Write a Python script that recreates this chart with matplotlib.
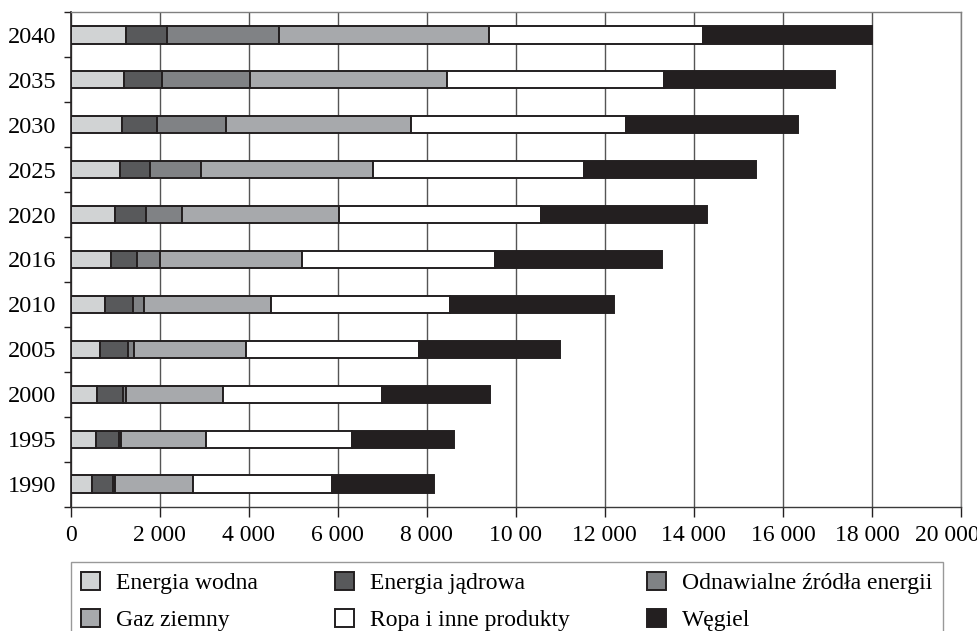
import numpy as np
import matplotlib
matplotlib.use("Agg")
import matplotlib.pyplot as plt
import matplotlib.transforms as mtransforms

plt.rcParams['font.family'] = ['Liberation Serif', 'DejaVu Serif']

# Years (bottom to top) and energy use by source
years = ['1990', '1995', '2000', '2005', '2010', '2016', '2020', '2025', '2030', '2035', '2040']
hydro      = [476, 565, 595, 655, 768, 902, 1006, 1104, 1156, 1200, 1240]
nuclear    = [471, 531, 590, 636, 642, 598, 689, 681, 786, 850, 920]
renewables = [45, 45, 68, 134, 233, 516, 801, 1151, 1555, 1975, 2530]
gas        = [1758, 1908, 2170, 2508, 2864, 3187, 3531, 3854, 4140, 4440, 4700]
oil        = [3127, 3277, 3562, 3883, 4011, 4330, 4539, 4750, 4846, 4870, 4810]
coal       = [2282, 2282, 2436, 3180, 3679, 3762, 3730, 3858, 3854, 3845, 3800]

series_names = ['Energia wodna', 'Energia jądrowa', 'Odnawialne źródła energii',
                'Gaz ziemny', 'Ropa i inne produkty', 'Węgiel']
series_colors = ['#d1d3d4', '#58595b', '#808285', '#a7a9ac', '#ffffff', '#231f20']

x_ticks = [0, 2000, 4000, 6000, 8000, 10000, 12000, 14000, 16000, 18000, 20000]
x_tick_labels = ['0', '2 000', '4 000', '6 000', '8 000', '10 00', '12 000',
                 '14 000', '16 000', '18 000', '20 000']

fig = plt.figure(figsize=(9.78, 6.31), dpi=100)
ax = fig.add_axes([0.0721, 0.197, 0.9105, 0.7835])

y = np.arange(len(years))
left = np.zeros(len(years))
handles = []
for name, vals, col in zip(series_names, [hydro, nuclear, renewables, gas, oil, coal], series_colors):
    vals = np.array(vals, dtype=float)
    b = ax.barh(y, vals, left=left, height=0.39, color=col, edgecolor='#231f20',
                linewidth=1.4, label=name, zorder=3)
    handles.append(b)
    left += vals

ax.set_xlim(0, 20000)
ax.set_ylim(-0.5, len(years) - 0.5)
ax.set_xticks(x_ticks)
ax.set_xticklabels(x_tick_labels, fontsize=17)
ax.set_yticks(y)
ax.set_yticklabels(years, fontsize=17.5)
ax.set_yticks(np.arange(-0.5, len(years), 1.0), minor=True)

ax.tick_params(axis='y', which='major', length=0, pad=10)
ax.tick_params(axis='y', which='minor', length=5, width=1, color='#231f20', direction='out')
ax.tick_params(axis='x', which='major', length=7, width=1, color='#231f20', pad=6)

# The last two labels are nudged left so they stay inside the figure
fig.canvas.draw()
xlabels = ax.get_xticklabels()
for lbl, dx in ((xlabels[-2], -5), (xlabels[-1], -14)):
    lbl.set_transform(lbl.get_transform() +
                      mtransforms.ScaledTranslation(dx / 100, 0, fig.dpi_scale_trans))

ax.xaxis.grid(True, color='#555555', linewidth=1)
ax.set_axisbelow(True)

ax.spines['left'].set_color('#231f20')
ax.spines['left'].set_linewidth(1.2)
ax.spines['bottom'].set_color('#3a3a3a')
ax.spines['bottom'].set_linewidth(1.0)
for s in ('top', 'right'):
    ax.spines[s].set_color('#808080')
    ax.spines[s].set_linewidth(1.0)

# Legend filled row by row: reorder for matplotlib's column-major layout
order = [0, 3, 1, 4, 2, 5]
leg = fig.legend([handles[i] for i in order], [series_names[i] for i in order],
                 ncol=3, loc='upper left', bbox_to_anchor=(71 / 978, 1 - 562 / 631),
                 fontsize=17, frameon=True, fancybox=False, borderpad=0.42,
                 handlelength=0.8, handleheight=0.8, handletextpad=0.7,
                 columnspacing=3.25, labelspacing=0.62, borderaxespad=0)
leg.get_frame().set_edgecolor('#808080')
leg.get_frame().set_linewidth(1.0)

fig.savefig('out.png', dpi=100)
